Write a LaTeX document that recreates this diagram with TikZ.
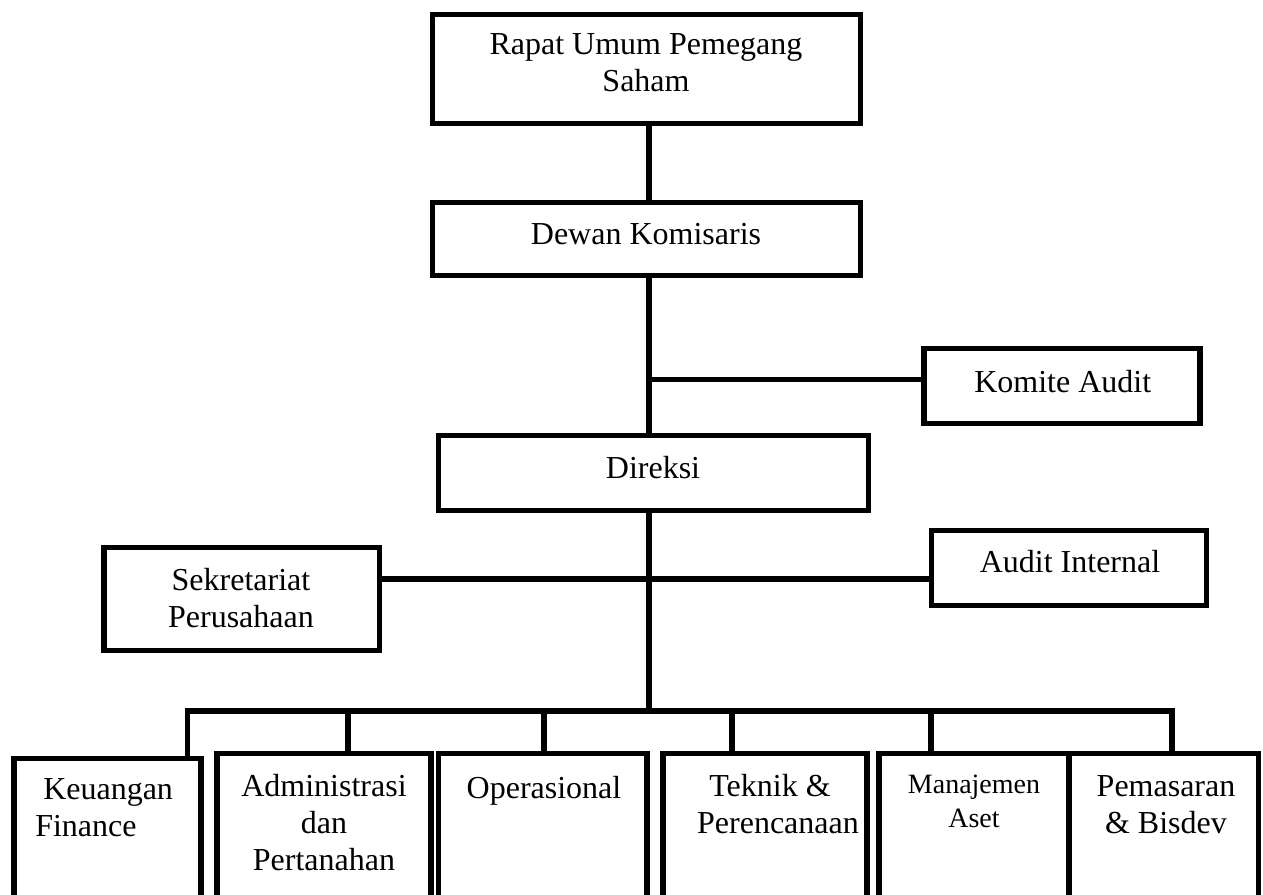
\documentclass[tikz,border=0pt]{standalone}
\usepackage{fontspec}
\setmainfont{Liberation Serif}
\begin{document}
\begin{tikzpicture}[x=0.75pt, y=-0.75pt,
  box/.style={draw, line width=3.8pt, inner sep=0pt, outer sep=0pt},
  boxsize/.style 2 args={minimum width=#1*0.75pt, minimum height=#2*0.75pt},
  lbl/.style={inner sep=0pt, align=center, font=\fontsize{24}{27.6}\selectfont},
  link/.style={line width=3.8pt, line join=miter}]
\useasboundingbox (0,0) rectangle (1263,895);
\clip (0,0) rectangle (1263,895);

% upper levels
\node[box, boxsize={428}{109}]   (rups) at (646.5,69)   {};
\node[box, boxsize={428}{73}]    (dk)   at (646.5,239)  {};
\node[box, boxsize={276}{75}]    (ka)   at (1062,386)   {};
\node[box, boxsize={430}{75}]    (dir)  at (653.5,473)  {};
\node[box, boxsize={275}{75}]    (ai)   at (1069,568)   {};
\node[box, boxsize={275.5}{103}] (sek)  at (241.75,599) {};

% departments (boxes run past the lower edge)
\node[box, boxsize={187}{171.5}]   (b1) at (107.5,844.25)  {};
\node[box, boxsize={214}{176.5}]   (b2) at (324,841.75)    {};
\node[box, boxsize={208.5}{176.5}] (b3) at (542.75,841.75) {};
\node[box, boxsize={204}{176.5}]   (b4) at (765,841.75)    {};
\node[box, boxsize={190}{176.5}]   (b5) at (974,841.75)    {};
\node[box, boxsize={189.5}{176.5}] (b6) at (1163.75,841.75) {};

% labels
\node[lbl] (trups) at (646,62.5)    {Rapat Umum Pemegang\\Saham};
\node[lbl] (tdk)   at (646,234.5)   {Dewan Komisaris};
\node[lbl] (tka)   at (1062.7,381.7) {Komite Audit};
\node[lbl] (tdir)  at (653,468)     {Direksi};
\node[lbl] (tai)   at (1070,562)    {Audit Internal};
\node[lbl] (tsek)  at (241,598.3)   {Sekretariat\\Perusahaan};

\node[lbl, align=left, anchor=west] (tb1) at (35,807.5) {\hspace*{0.25em}Keuangan\\Finance};
\node[lbl] (tb2) at (324,822.5) {Administrasi\\dan\\Pertanahan};
\node[lbl] (tb3) at (544,791)   {Operasional};
\node[lbl] (tb4) at (778,804)   {Teknik \&\hspace*{0.5em}\\Perencanaan};
\node[lbl, font=\fontsize{21}{25.5}\selectfont] (tb5) at (974,801.5) {Manajemen\\Aset};
\node[lbl] (tb6) at (1166,805)  {Pemasaran\\\& Bisdev};

% trunk and junctions
\coordinate (trunk) at (649,0);
\coordinate (kaj) at (649,379.7);
\coordinate (hj)  at (649,579);
\coordinate (bj)  at (649,711);
\coordinate (d1) at (187.5,711);
\coordinate (d2) at (348,711);
\coordinate (d3) at (544,711);
\coordinate (d4) at (732,711);
\coordinate (d5) at (931,711);
\coordinate (d6) at (1172,711);

% connectors
\draw[link] (rups.south -| trunk) -- (dk.north -| trunk);
\draw[link] (dk.south -| trunk) -- (dir.north -| trunk);
\draw[link] (kaj) -- (kaj -| ka.west);
\draw[link] (dir.south -| trunk) -- (bj);
\draw[link] (hj -| sek.east) -- (hj -| ai.west);
\draw[link] (b1.north -| d1) -- (d1) -- (d6) -- (b6.north -| d6);
\foreach \i in {2,...,5} \draw[link] (d\i) -- (d\i |- b\i.north);
\end{tikzpicture}
\end{document}
